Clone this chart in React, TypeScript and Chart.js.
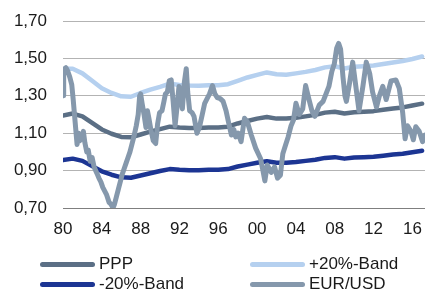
import React, { useEffect, useRef } from "react";
import { Chart, registerables } from "chart.js";

Chart.register(...registerables);

const years = [
  1980, 1981, 1982, 1983, 1984, 1985, 1986, 1987, 1988, 1989,
  1990, 1991, 1992, 1993, 1994, 1995, 1996, 1997, 1998, 1999,
  2000, 2001, 2002, 2003, 2004, 2005, 2006, 2007, 2008, 2009,
  2010, 2011, 2012, 2013, 2014, 2015, 2016, 2017,
];

const ppp = [
  1.195, 1.205, 1.19, 1.155, 1.12, 1.097, 1.08, 1.078, 1.093, 1.108,
  1.122, 1.135, 1.13, 1.128, 1.128, 1.13, 1.13, 1.135, 1.152, 1.165,
  1.178, 1.187, 1.178, 1.178, 1.183, 1.19, 1.198, 1.21, 1.215, 1.205,
  1.212, 1.215, 1.218, 1.225, 1.232, 1.238, 1.248, 1.258,
];

const bandUp = [
  1.445, 1.445, 1.42, 1.38, 1.34, 1.315, 1.297, 1.295, 1.315, 1.333,
  1.348, 1.365, 1.358, 1.355, 1.354, 1.357, 1.357, 1.362, 1.38, 1.398,
  1.412, 1.425, 1.415, 1.413, 1.42, 1.428, 1.438, 1.452, 1.458, 1.446,
  1.455, 1.458, 1.462, 1.47, 1.478, 1.486, 1.497, 1.51,
];

const bandDown = [
  0.956, 0.964, 0.952, 0.924, 0.896, 0.878, 0.864, 0.862, 0.874, 0.886,
  0.898, 0.908, 0.904, 0.902, 0.902, 0.904, 0.904, 0.908, 0.922, 0.932,
  0.942, 0.95, 0.942, 0.942, 0.946, 0.952, 0.958, 0.968, 0.972, 0.964,
  0.97, 0.972, 0.974, 0.98, 0.986, 0.99, 0.998, 1.006,
];

const eurDates = [
  1980.0, 1980.04, 1980.1, 1980.3, 1980.5, 1980.7, 1980.9, 1981.05, 1981.25, 1981.45,
  1981.6, 1981.75, 1981.95, 1982.1, 1982.25, 1982.45, 1982.6, 1982.8, 1983.0, 1983.2,
  1983.5, 1983.7, 1983.9, 1984.1, 1984.3, 1984.5, 1984.75, 1984.95, 1985.15, 1985.3,
  1985.5, 1985.7, 1985.9, 1986.1, 1986.3, 1986.5, 1986.7, 1986.9, 1987.1, 1987.3,
  1987.55, 1987.75, 1987.9, 1988.0, 1988.15, 1988.35, 1988.55, 1988.7, 1988.85, 1989.05,
  1989.3, 1989.55, 1989.75, 1989.95, 1990.2, 1990.4, 1990.55, 1990.75, 1990.95, 1991.15,
  1991.35, 1991.55, 1991.75, 1991.95, 1992.1, 1992.3, 1992.5, 1992.7, 1992.85, 1993.05,
  1993.3, 1993.5, 1993.8, 1994.05, 1994.35, 1994.6, 1994.9, 1995.1, 1995.4, 1995.65,
  1995.9, 1996.2, 1996.5, 1996.8, 1997.05, 1997.35, 1997.6, 1997.8, 1998.05, 1998.35,
  1998.7, 1999.0, 1999.4, 1999.85, 2000.35, 2000.6, 2000.8, 2001.05, 2001.45, 2001.8,
  2002.1, 2002.4, 2002.65, 2002.95, 2003.2, 2003.5, 2003.75, 2004.0, 2004.35, 2004.7,
  2005.0, 2005.35, 2005.65, 2005.95, 2006.4, 2006.8, 2007.1, 2007.4, 2007.7, 2007.95,
  2008.2, 2008.4, 2008.6, 2008.85, 2009.05, 2009.2, 2009.5, 2009.85, 2010.15, 2010.5,
  2010.9, 2011.25, 2011.6, 2011.9, 2012.3, 2012.6, 2012.95, 2013.3, 2013.8, 2014.3,
  2014.65, 2015.0, 2015.25, 2015.5, 2015.85, 2016.1, 2016.35, 2016.7, 2017.05, 2017.3,
];

const eurRates = [
  1.43, 1.3, 1.44, 1.45, 1.43, 1.4, 1.36, 1.28, 1.16, 1.04,
  1.1, 1.06, 1.08, 1.11, 1.05, 1.0, 1.01, 0.95, 0.97, 0.92,
  0.885, 0.86, 0.84, 0.81, 0.79, 0.77, 0.73, 0.72, 0.7, 0.72,
  0.76, 0.8, 0.84, 0.88, 0.91, 0.94, 0.97, 1.0, 1.04, 1.08,
  1.14, 1.2, 1.3, 1.31, 1.26, 1.2, 1.13, 1.22, 1.18, 1.12,
  1.06, 1.045, 1.15, 1.21, 1.22, 1.27, 1.31, 1.32, 1.38, 1.385,
  1.27, 1.14, 1.24, 1.35, 1.3, 1.23, 1.37, 1.445, 1.32, 1.22,
  1.21, 1.19, 1.1, 1.13, 1.2, 1.26, 1.29, 1.31, 1.355, 1.31,
  1.29, 1.285, 1.27, 1.22, 1.16, 1.09, 1.12, 1.08, 1.1, 1.055,
  1.18, 1.16, 1.09, 1.02, 0.965, 0.9, 0.845, 0.93, 0.89, 0.92,
  0.86, 0.875, 0.99, 1.04, 1.08, 1.14, 1.17, 1.26, 1.2, 1.23,
  1.355, 1.28, 1.22, 1.19, 1.25, 1.27, 1.31, 1.35, 1.43, 1.47,
  1.555, 1.58, 1.55, 1.4, 1.3, 1.27, 1.36, 1.48, 1.36, 1.22,
  1.35, 1.48, 1.42, 1.32, 1.24, 1.3, 1.35, 1.28, 1.38, 1.385,
  1.34, 1.21, 1.07, 1.14, 1.11, 1.065, 1.135, 1.11, 1.055, 1.09,
];

const xTickYears = [1980, 1984, 1988, 1992, 1996, 2000, 2004, 2008, 2012, 2016];
const xTickLabels = ["80", "84", "88", "92", "96", "00", "04", "08", "12", "16"];
const yTickValues = [0.7, 0.9, 1.1, 1.3, 1.5, 1.7];
const yTickLabels = ["0,70", "0,90", "1,10", "1,30", "1,50", "1,70"];

const seriesNames = ["PPP", "+20%-Band", "-20%-Band", "EUR/USD"];
const seriesColors = ["#5b6f85", "#b5d0ef", "#1c3593", "#8598ac"];

const FONT = "'Liberation Sans', Arial, sans-serif";

export default function App() {
  const canvasRef = useRef<HTMLCanvasElement | null>(null);

  useEffect(() => {
    const canvas = canvasRef.current;
    if (!canvas) return;
    const toPts = (xs: number[], ys: number[]) => xs.map((x, i) => ({ x, y: ys[i] }));
    const chart = new Chart(canvas, {
      type: "line",
      data: {
        datasets: [
          {
            label: seriesNames[3],
            data: toPts(eurDates, eurRates),
            borderColor: seriesColors[3],
            borderWidth: 5,
            order: 0,
          },
          {
            label: seriesNames[0],
            data: toPts(years, ppp),
            borderColor: seriesColors[0],
            borderWidth: 4.5,
            order: 1,
          },
          {
            label: seriesNames[1],
            data: toPts(years, bandUp),
            borderColor: seriesColors[1],
            borderWidth: 4.5,
            order: 2,
          },
          {
            label: seriesNames[2],
            data: toPts(years, bandDown),
            borderColor: seriesColors[2],
            borderWidth: 4.5,
            order: 3,
          },
        ].map((d) => ({
          ...d,
          pointRadius: 0,
          tension: 0,
          fill: false,
          borderJoinStyle: "round" as const,
          borderCapStyle: "round" as const,
        })),
      },
      options: {
        animation: false,
        responsive: false,
        devicePixelRatio: 1,
        layout: { padding: { left: 14, right: 0, top: 21, bottom: 54 } },
        plugins: { legend: { display: false }, tooltip: { enabled: false } },
        scales: {
          x: {
            type: "linear",
            min: 1980,
            max: 2017.3,
            grid: { display: false, drawTicks: false },
            border: { display: false },
            afterBuildTicks: (s: any) => {
              s.ticks = xTickYears.map((v) => ({ value: v }));
            },
            afterFit: (s: any) => {
              s.height = 32;
              s.paddingLeft = 0;
              s.paddingRight = 0;
              s.paddingTop = 0;
              s.paddingBottom = 0;
            },
            ticks: {
              autoSkip: false,
              maxRotation: 0,
              padding: 11,
              color: "#1a1a1a",
              font: { family: FONT, size: 17 },
              callback: (v: any) => {
                const i = xTickYears.indexOf(Number(v));
                return i >= 0 ? xTickLabels[i] : "";
              },
            },
          },
          y: {
            type: "linear",
            min: 0.7,
            max: 1.7,
            grid: {
              drawTicks: false,
              lineWidth: 1,
              color: (ctx: any) =>
                ctx.tick && Math.abs(ctx.tick.value - 0.7) < 1e-6 ? "#7f7f7f" : "#b3b3b3",
            },
            border: { display: false },
            afterBuildTicks: (s: any) => {
              s.ticks = yTickValues.map((v) => ({ value: v }));
            },
            afterFit: (s: any) => {
              s.width = 49;
              s.paddingLeft = 0;
              s.paddingRight = 0;
              s.paddingTop = 0;
              s.paddingBottom = 0;
            },
            ticks: {
              padding: 16,
              color: "#1a1a1a",
              font: { family: FONT, size: 17 },
              callback: (v: any) => {
                const i = yTickValues.findIndex((t) => Math.abs(t - Number(v)) < 1e-6);
                return i >= 0 ? yTickLabels[i] : "";
              },
            },
          },
        },
      },
    });
    return () => chart.destroy();
  }, []);

  const legendPos = [
    { left: 40, cy: 264 },
    { left: 250, cy: 264 },
    { left: 40, cy: 284 },
    { left: 250, cy: 284 },
  ];

  return (
    <div
      style={{
        position: "absolute",
        left: 0,
        top: 0,
        width: 425,
        height: 294,
        background: "#ffffff",
        overflow: "hidden",
      }}
    >
      <canvas ref={canvasRef} width={425} height={294} style={{ display: "block", width: 425, height: 294 }} />
      {legendPos.map((p, i) => (
        <div key={i}>
          <div
            style={{
              position: "absolute",
              left: p.left,
              top: p.cy - 2.5,
              width: 55,
              height: 5,
              borderRadius: 3,
              background: seriesColors[i],
            }}
          />
          <div
            style={{
              position: "absolute",
              left: p.left + 59,
              top: p.cy - 10,
              fontFamily: FONT,
              fontSize: 17,
              lineHeight: "20px",
              color: "#1a1a1a",
              whiteSpace: "nowrap",
            }}
          >
            {seriesNames[i]}
          </div>
        </div>
      ))}
    </div>
  );
}
